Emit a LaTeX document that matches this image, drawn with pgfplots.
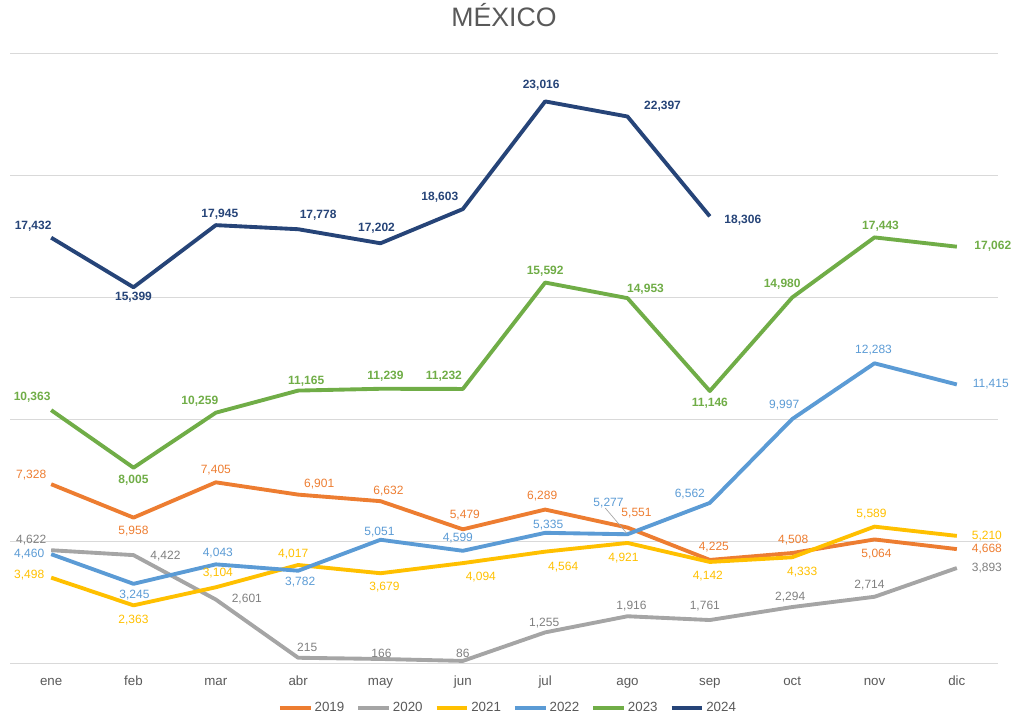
\documentclass[border=0pt]{standalone}
\usepackage{fontspec}
\setmainfont{Liberation Sans}
\usepackage{pgfplots}
\usepackage{pgfplotstable}
\pgfplotsset{compat=1.18}
\definecolor{cA}{HTML}{ED7D31}
\definecolor{cB}{HTML}{A5A5A5}
\definecolor{cBt}{HTML}{808080}
\definecolor{cC}{HTML}{FFC000}
\definecolor{cD}{HTML}{5B9BD5}
\definecolor{cE}{HTML}{70AD47}
\definecolor{cF}{HTML}{264478}
\definecolor{txt}{HTML}{595959}
\definecolor{gridc}{HTML}{D9D9D9}

\pgfplotsset{
  lbl/.style={
    nodes near coords,
    visualization depends on={\thisrow{dx} \as \lblx},
    visualization depends on={\thisrow{dy} \as \lbly},
    every node near coord/.append style={anchor=center, inner sep=0pt,
      xshift=\lblx*0.75pt, yshift=\lbly*0.75pt, text=#1,
      font=\fontsize{9}{11}\selectfont},
  },
  lblb/.style={
    nodes near coords,
    visualization depends on={\thisrow{dx} \as \lblx},
    visualization depends on={\thisrow{dy} \as \lbly},
    every node near coord/.append style={anchor=center, inner sep=0pt,
      xshift=\lblx*0.75pt, yshift=\lbly*0.75pt, text=#1,
      font=\fontsize{9}{11}\selectfont\bfseries},
  },
}

\pgfplotstableread{
x y dx dy
0 7328 -20 9
1 5958 0 -13
2 7405 0 12
3 6901 21 11
4 6632 8 10
5 5479 2 14
6 6289 -3 13
7 5551 9 14
8 4225 4 13
9 4508 1 13
10 5064 2 -15
11 4668 30 0
}\dataA
\pgfplotstableread{
x y dx dy
0 4622 -20 10
1 4422 32 -1
2 2601 31 0
3 215 9 10
4 166 1 6
5 86 0 8
6 1255 -1 9
7 1916 4 10
8 1761 -5 14
9 2294 -2 10
10 2714 -5 12
11 3893 30 0
}\dataB
\pgfplotstableread{
x y dx dy
0 3498 -22 3
1 2363 0 -15
2 3104 2 14
3 4017 -5 11
4 3679 4 -14
5 4094 18 -14
6 4564 18 -15
7 4921 -4 -15
8 4142 -2 -14
9 4333 10 -15
10 5589 -3 13
11 5210 30 0
}\dataC
\pgfplotstableread{
x y dx dy
0 4460 -22 0
1 3245 1 -11
2 4043 2 11
3 3782 2 -11
4 5051 -1 8
5 4599 -5 13
6 5335 3 8
7 5277 -19 31
8 6562 -20 9
9 9997 -8 14
10 12283 -1 13
11 11415 34 0
}\dataD
\pgfplotstableread{
x y dx dy
0 10363 -19 13
1 8005 0 -13
2 10259 -16 11
3 11165 8 9
4 11239 5 13
5 11232 -19 13
6 15592 0 11
7 14953 18 9
8 11146 0 -12
9 14980 -10 13
10 17443 6 11
11 17062 36 0
}\dataE
\pgfplotstableread{
x y dx dy
0 17432 -18 11
1 15399 0 -10
2 17945 4 11
3 17778 20 14
4 17202 -4 15
5 18603 -23 12
6 23016 -4 16
7 22397 35 10
8 18306 33 -4
}\dataF

\begin{document}
\begin{tikzpicture}
\useasboundingbox (-7.5pt,-42pt) rectangle (755.25pt,497.25pt);
\begin{axis}[
  at={(0pt,0pt)}, anchor=south west,
  scale only axis, width=741pt, height=457.5pt,
  xmin=-0.5, xmax=11.5, ymin=0, ymax=25000,
  xtick={0,...,11},
  xticklabels={ene,feb,mar,abr,may,jun,jul,ago,sep,oct,nov,dic},
  ytick={0,5000,10000,15000,20000,25000}, yticklabels={},
  scaled y ticks=false,
  ymajorgrids, grid style={color=gridc, line width=0.75pt},
  axis line style={draw=none}, major tick length=0pt,
  xticklabel style={font=\fontsize{10}{12}\selectfont, text=txt, anchor=base, yshift=-17pt},
  title={MÉXICO},
  title style={at={(0.5,1)}, anchor=base, yshift=14pt, font=\fontsize{20}{24}\selectfont, text=txt},
  clip=false,
  /pgf/number format/1000 sep={,},
  /pgf/number format/assume math mode=true,
  every axis plot/.append style={line width=2.9pt, line join=round, mark=none},
  legend columns=6,
  legend image code/.code={\draw[#1, line width=3pt] (0pt,0pt) -- (23pt,0pt);},
  legend style={at={(0.504,0)}, anchor=center, yshift=-33.75pt, draw=none, fill=none,
    font=\fontsize{10}{12}\selectfont, text=txt,
    nodes={inner sep=1.5pt},
    /tikz/every even column/.append style={column sep=7.5pt}},
]
\addplot[cA, lbl=cA, forget plot] table[x=x,y=y] {\dataA};
\addplot[cB, lbl=cBt, forget plot] table[x=x,y=y] {\dataB};
\addplot[cC, lbl=cC, forget plot] table[x=x,y=y] {\dataC};
\addplot[cD, lbl=cD, forget plot] table[x=x,y=y] {\dataD};
\addplot[cE, lblb=cE, forget plot] table[x=x,y=y] {\dataE};
\addplot[cF, lblb=cF, forget plot] table[x=x,y=y] {\dataF};
\draw[color=cB, line width=0.5pt] (axis cs:6.73,6350) -- (axis cs:6.99,5320);
\addlegendimage{cA}\addlegendentry{2019}
\addlegendimage{cB}\addlegendentry{2020}
\addlegendimage{cC}\addlegendentry{2021}
\addlegendimage{cD}\addlegendentry{2022}
\addlegendimage{cE}\addlegendentry{2023}
\addlegendimage{cF}\addlegendentry{2024}
\end{axis}
\end{tikzpicture}
\end{document}
